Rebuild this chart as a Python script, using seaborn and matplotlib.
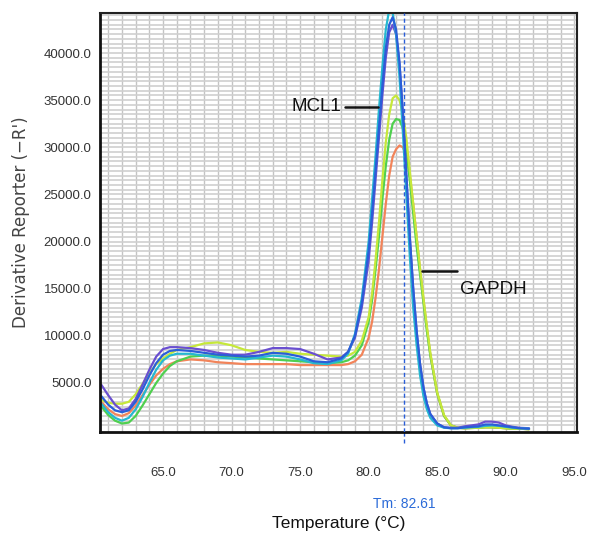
import numpy as np
import pandas as pd
import matplotlib
matplotlib.use("Agg")
import matplotlib.pyplot as plt
import seaborn as sns
from matplotlib.ticker import MultipleLocator, FixedLocator

# ---------------- data ----------------
temps = [60.5, 61, 61.5, 62, 62.5, 63, 63.5, 64, 64.5, 65, 65.5, 66, 67, 68, 69, 70,
         71, 72, 73, 74, 75, 76, 77, 78, 78.5, 79, 79.5, 80, 80.25, 80.5, 80.75, 81,
         81.25, 81.5, 81.75, 82, 82.25, 82.5, 82.75, 83, 83.25, 83.5, 83.75, 84, 84.25,
         84.5, 85, 85.5, 86, 86.5, 87, 88, 88.5, 89, 89.5, 90, 90.5, 91, 91.7]

mcl1_blue = [3600, 2700, 2100, 1900, 2100, 3000, 4300, 5800, 7100, 8000, 8400, 8500, 8400,
             8200, 8000, 7900, 7800, 7900, 8200, 8100, 7800, 7300, 7200, 7600, 8300, 10000,
             13500, 19000, 23000, 27500, 32000, 36500, 40500, 43000, 43800, 42500, 39000,
             33500, 27000, 20500, 15000, 10500, 7000, 4500, 2800, 1700, 700, 300, 200, 200,
             300, 400, 600, 600, 500, 400, 300, 200, 150]
mcl1_teal = [2800, 1900, 1300, 1000, 1300, 2200, 3500, 5000, 6400, 7400, 7900, 8100, 8100,
             7900, 7700, 7600, 7500, 7700, 7900, 7800, 7500, 7100, 7000, 7400, 8100, 10200,
             14000, 20000, 24500, 29000, 34000, 38500, 42500, 44600, 44300, 42000, 37500,
             31500, 25000, 18500, 13000, 9000, 5800, 3600, 2200, 1300, 500, 250, 200, 200,
             250, 350, 450, 500, 450, 350, 250, 200, 150]
mcl1_purple = [4800, 3700, 2700, 2100, 2300, 3300, 4800, 6400, 7800, 8600, 8800, 8800, 8700,
               8500, 8200, 8000, 8000, 8300, 8700, 8700, 8600, 8100, 7500, 7700, 8300, 9800,
               13000, 18000, 22000, 26500, 31000, 35500, 39500, 42200, 43000, 42000, 38800,
               33500, 27000, 20500, 15000, 10500, 7000, 4500, 2800, 1700, 700, 300, 250, 250,
               400, 600, 900, 900, 800, 500, 350, 250, 200]
gapdh_yellow = [3200, 2900, 2800, 2800, 3000, 3800, 4900, 6000, 7000, 7600, 8100, 8500, 8800,
                9200, 9300, 9000, 8500, 8300, 8200, 8300, 8100, 8000, 7900, 7800, 7900, 8300,
                9500, 12000, 14500, 18000, 22000, 26500, 30500, 33500, 35200, 35500, 35000,
                33500, 31000, 27500, 24000, 20500, 17200, 14000, 11000, 8200, 4000, 1600, 500,
                250, 200, 250, 300, 300, 250, 200, 150, 150, 100]
gapdh_green = [2500, 1600, 1000, 700, 800, 1500, 2600, 3800, 5000, 6000, 6800, 7300, 7800,
               7900, 7900, 7800, 7700, 7600, 7500, 7400, 7300, 7200, 7100, 7200, 7400, 7900,
               9000, 11500, 13800, 17000, 20500, 24500, 28000, 30800, 32500, 33000, 32900,
               32000, 29800, 26500, 23000, 19500, 16500, 13500, 10500, 7900, 3900, 1500, 500,
               250, 200, 250, 300, 300, 250, 200, 150, 150, 100]
gapdh_orange = [3000, 2200, 1700, 1500, 1800, 2600, 3700, 4800, 5800, 6500, 7000, 7300, 7500,
                7400, 7200, 7100, 7000, 7000, 7000, 7000, 6900, 6900, 6900, 6900, 7000, 7300,
                8000, 9800, 11500, 14000, 17000, 20500, 24000, 27000, 29000, 29800, 30200,
                30000, 29000, 27000, 24000, 20500, 17000, 13800, 10800, 8000, 3900, 1500, 500,
                250, 200, 250, 300, 300, 250, 200, 150, 150, 100]

series_names = ["MCL1 a", "MCL1 b", "MCL1 c", "GAPDH a", "GAPDH b", "GAPDH c"]
series_values = [mcl1_blue, mcl1_teal, mcl1_purple, gapdh_yellow, gapdh_green, gapdh_orange]
series_colors = ["#2a5ed8", "#25b8d0", "#6a4fd0", "#c6e83a", "#4fd04f", "#f2845a"]

x_major = [65.0, 70.0, 75.0, 80.0, 85.0, 90.0, 95.0]
y_major = [5000, 10000, 15000, 20000, 25000, 30000, 35000, 40000]
tm_value = 82.61

# ---------------- figure ----------------
sns.set_style("white")
plt.rcParams["font.family"] = ["Liberation Sans", "DejaVu Sans"]

fig = plt.figure(figsize=(5.9, 5.4), dpi=100)
ax = fig.add_axes([100 / 590, 108 / 540, 477 / 590, 419 / 540])

df = pd.concat([pd.DataFrame({"Temperature": temps, "Value": v, "Series": n})
                for n, v in zip(series_names, series_values)], ignore_index=True)
draw_order = ["GAPDH c", "GAPDH b", "GAPDH a", "MCL1 c", "MCL1 b", "MCL1 a"]
palette = dict(zip(series_names, series_colors))
for name in draw_order:
    sns.lineplot(data=df[df["Series"] == name], x="Temperature", y="Value",
                 color=palette[name], linewidth=1.6, ax=ax, legend=False,
                 estimator=None, sort=True)

ax.set_xlim(60.4, 95.2)
ax.set_ylim(-200, 44250)

# grid
for t in np.arange(61, 96, 1):
    ax.axvline(t, color="#c4c4c4", lw=1.0, zorder=0)
for v in np.arange(500, 44250, 500):
    ax.axhline(v, color="#d0d0d0", lw=1.2, zorder=0)

# ticks
ax.xaxis.set_major_locator(FixedLocator(x_major))
ax.xaxis.set_minor_locator(MultipleLocator(1))
ax.set_xticklabels([f"{t:.1f}" for t in x_major])
ax.yaxis.set_major_locator(FixedLocator(y_major))
ax.yaxis.set_minor_locator(MultipleLocator(1000))
ax.set_yticklabels([f"{v:.1f}" for v in y_major])
ax.tick_params(axis="x", which="major", direction="out", length=8, width=0.8,
               color="#b0b0b0", pad=17, labelsize=9.5, labelcolor="#333333")
ax.tick_params(axis="x", which="minor", direction="out", length=8, width=0.8,
               color="#b0b0b0")
ax.tick_params(axis="y", which="major", direction="out", length=4, width=0.8,
               color="#888888", pad=2, labelsize=9.5, labelcolor="#333333")
ax.tick_params(axis="y", which="minor", direction="out", length=3, width=0.6,
               color="#bbbbbb")

for side in ["left", "bottom"]:
    ax.spines[side].set_linewidth(2.0)
    ax.spines[side].set_color("#111111")
for side in ["top", "right"]:
    ax.spines[side].set_linewidth(1.5)
    ax.spines[side].set_color("#222222")

# Tm line
ax.axvline(tm_value, color="#2a5ed8", lw=1.0, ls=(0, (3, 2)), zorder=3)
ax.plot([tm_value, tm_value], [-200, -1400], color="#2a5ed8", lw=1.0,
        ls=(0, (3, 2)), clip_on=False)
ax.text(tm_value, -7800, f"Tm: {tm_value}", color="#2a6ad8", ha="center", va="center",
        fontsize=10)

# labels
ax.set_xlabel("Temperature (°C)", fontsize=12.5, color="#111111")
ax.set_ylabel("Derivative Reporter (\u2212R')", fontsize=12, color="#444444",
              family="DejaVu Sans")
ax.xaxis.set_label_coords(0.5, -0.2)
ax.yaxis.set_label_coords(-0.147, 0.5)

# annotations
ax.plot([78.3, 80.7], [34300, 34300], color="#111111", lw=1.8)
ax.text(78.0, 34300, "MCL1", ha="right", va="center", fontsize=13.5, color="#111111")
ax.plot([83.9, 86.45], [16900, 16900], color="#111111", lw=1.8)
ax.text(86.7, 14900, "GAPDH", ha="left", va="center", fontsize=13.5, color="#111111")

fig.savefig("out.png", dpi=100)
